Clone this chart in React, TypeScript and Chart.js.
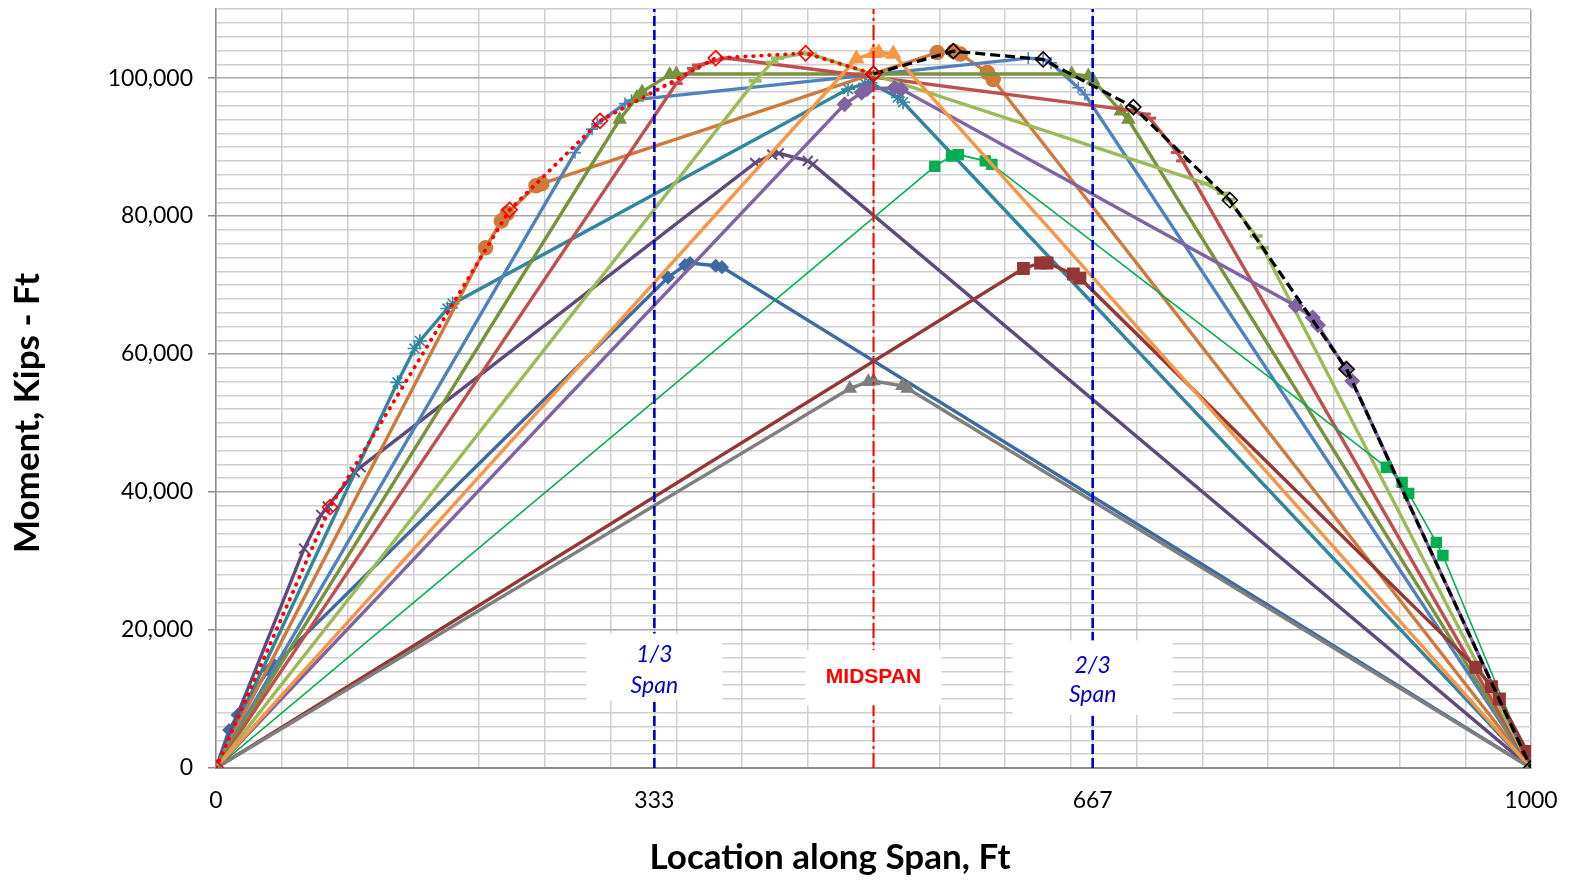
import React, { useEffect, useRef } from 'react';
import { Chart, registerables } from 'chart.js';

Chart.register(...registerables);

const FONT = 'Lato, "Open Sans", "Liberation Sans", sans-serif';

// ---- data (x: ft along span, y: moment kip-ft) ----
const darkBlueX = [0, 10, 16.5, 40, 44.4, 343.7, 356.7, 360.5, 380, 384.8, 1000];
const darkBlueY = [0, 5500, 7700, 14200, 14900, 71100, 72900, 73200, 72800, 72600, 0];
const darkPurpleX = [0, 67, 80, 85, 105.5, 110, 410, 423, 428, 450, 454, 1000];
const darkPurpleY = [0, 31800, 36700, 37900, 42900, 43600, 87700, 88900, 89100, 88000, 87500, 0];
const tealX = [0, 138, 151, 155, 176, 180, 480.6, 493.5, 497.5, 518.5, 522.5, 1000];
const tealY = [0, 55900, 60800, 61900, 66600, 67300, 98400, 99200, 99300, 97200, 96500, 0];
const brownX = [0, 205, 217, 221.5, 243.3, 247.7, 548.5, 561, 566, 586.6, 591, 1000];
const brownY = [0, 75400, 79300, 80400, 84400, 84700, 103700, 103900, 103500, 100800, 99800, 0];
const blueX = [0, 273, 286, 290, 311, 316, 617.7, 629, 635, 655.7, 660.8, 1000];
const blueY = [0, 89200, 92600, 93400, 96300, 96800, 102900, 102700, 102200, 98600, 97600, 0];
const oliveX = [0, 307, 320, 324, 345, 350, 650.7, 663.4, 667, 688, 693.8, 1000];
const oliveY = [0, 94000, 97200, 98000, 100500, 100600, 100600, 100300, 99700, 95200, 94000, 0];
const redX = [0, 350, 363, 367, 388, 392, 693, 706, 710, 731, 735, 1000];
const redY = [0, 99200, 101400, 101900, 102900, 102800, 95400, 94800, 94200, 89200, 88000, 0];
const lightGreenX = [0, 410, 423, 427, 448, 452, 753, 766, 770, 791, 796, 1000];
const lightGreenY = [0, 99600, 102300, 102900, 103600, 103500, 84700, 83300, 82400, 77100, 75400, 0];
const purpleX = [0, 478, 491, 495, 516, 521, 821, 834, 838, 859, 864, 1000];
const purpleY = [0, 96200, 97900, 98400, 98600, 98400, 67000, 65300, 64200, 57900, 56100, 0];
const greenX = [0, 546.6, 559.4, 564.5, 585, 590, 890, 902, 907, 928, 933, 1000];
const greenY = [0, 87200, 88700, 88900, 88000, 87500, 43600, 41400, 39800, 32700, 30800, 0];
const darkRedX = [0, 614, 627, 632, 652, 657, 958, 970, 976, 997, 1000];
const darkRedY = [0, 72400, 73200, 73200, 71600, 71000, 14600, 11800, 10000, 2400, 0];
const orangeX = [0, 487, 500, 504, 515, 1000];
const orangeY = [0, 102800, 103600, 103700, 103500, 0];
const grayX = [0, 482, 496, 500, 522, 526, 1000];
const grayY = [0, 55000, 56000, 56100, 55400, 55000, 0];

const leftEnvX = [0, 86.7, 223.3, 292, 380, 448.4, 500];
const leftEnvY = [0, 37800, 80900, 93800, 102900, 103600, 100600];
const rightEnvX = [500, 560.7, 629, 697.6, 771, 859.8, 1000];
const rightEnvY = [100600, 103900, 102700, 95800, 82300, 57800, 0];

const thirdSpan = 1000 / 3;
const twoThirdSpan = 2000 / 3;
const midSpan = 500;

const xGridValues = Array.from({ length: 21 }, (_, i) => i * 50);
const xTickValues = [...xGridValues, thirdSpan, twoThirdSpan].sort((a, b) => a - b);
const xLabelMap: Record<string, string> = { '0': '0', '333': '333', '667': '667', '1000': '1000' };
const yTickValues = Array.from({ length: 56 }, (_, i) => i * 2000);

const X_TITLE = 'Location along Span, Ft';
const Y_TITLE = 'Moment, Kips - Ft';

function pts(xs: number[], ys: number[]) {
  return xs.map((x, i) => ({ x, y: ys[i] }));
}

function series(xs: number[], ys: number[], color: string, style: string, r: number, order: number, extra: any = {}) {
  const n = xs.length;
  return {
    data: pts(xs, ys),
    borderColor: color,
    backgroundColor: color,
    borderWidth: 3.4,
    pointStyle: style,
    pointRadius: xs.map((_, i) => (i === 0 || i === n - 1 ? 0 : r)),
    pointBackgroundColor: color,
    pointBorderColor: color,
    pointBorderWidth: 1.5,
    tension: 0,
    order,
    ...extra,
  };
}

const annotPlugin = {
  id: 'annotBoxes',
  afterDatasetsDraw(chart: any) {
    const { ctx } = chart;
    const xs = chart.scales.x;
    const ys = chart.scales.y;
    const boxes = [
      { xv: thirdSpan, half: 68, top: 19500, bot: 9800, lines: ['1/3', 'Span'], ly: [16400, 11900], color: '#0000CC', font: 'italic 23px ' + FONT },
      { xv: midSpan, half: 68, top: 17100, bot: 9100, lines: ['MIDSPAN'], ly: [13200], color: '#FF0000', font: 'bold 21px "Liberation Sans", Arial, sans-serif' },
      { xv: twoThirdSpan, half: 80, top: 18500, bot: 7700, lines: ['2/3', 'Span'], ly: [14900, 10600], color: '#0000CC', font: 'italic 23px ' + FONT },
    ];
    ctx.save();
    for (const b of boxes) {
      const cx = xs.getPixelForValue(b.xv);
      const t = ys.getPixelForValue(b.top);
      const bt = ys.getPixelForValue(b.bot);
      ctx.fillStyle = '#FFFFFF';
      ctx.fillRect(cx - b.half, t, b.half * 2, bt - t);
      ctx.fillStyle = b.color;
      ctx.font = b.font;
      ctx.textAlign = 'center';
      ctx.textBaseline = 'middle';
      b.lines.forEach((s, i) => ctx.fillText(s, cx, ys.getPixelForValue(b.ly[i])));
    }
    ctx.restore();
  },
  afterDraw(chart: any) {
    const { ctx } = chart;
    ctx.save();
    ctx.fillStyle = '#000';
    ctx.font = 'bold 35px ' + FONT;
    ctx.textAlign = 'center';
    ctx.textBaseline = 'middle';
    ctx.fillText(X_TITLE, 830, 858);
    ctx.translate(28, 413);
    ctx.rotate(-Math.PI / 2);
    ctx.fillText(Y_TITLE, 0, 0);
    ctx.restore();
  },
};

export default function App() {
  const ref = useRef<HTMLCanvasElement | null>(null);
  useEffect(() => {
    if (!ref.current) return;
    const refLine = (xv: number, color: string, dash: number[], w: number) => ({
      data: [{ x: xv, y: 0 }, { x: xv, y: 110000 }],
      borderColor: color,
      borderWidth: w,
      borderDash: dash,
      pointRadius: 0,
      order: 1,
    });
    const datasets: any[] = [
      {
        data: pts(leftEnvX, leftEnvY),
        borderColor: '#FF0000',
        borderWidth: 3.8,
        borderDash: [0.5, 7.5],
        borderCapStyle: 'round',
        pointStyle: 'rectRot',
        pointRadius: 7.5,
        pointBorderWidth: 1.6,
        pointBorderColor: '#FF0000',
        pointBackgroundColor: 'rgba(255,255,255,0)',
        order: 0,
      },
      {
        data: pts(rightEnvX, rightEnvY),
        borderColor: '#000000',
        borderWidth: 3.2,
        borderDash: [10, 5],
        pointStyle: 'rectRot',
        pointRadius: 7.5,
        pointBorderWidth: 1.6,
        pointBorderColor: '#000000',
        pointBackgroundColor: 'rgba(255,255,255,0)',
        order: 0,
      },
      refLine(thirdSpan, '#0000CC', [10, 4], 2.6),
      refLine(twoThirdSpan, '#0000CC', [10, 4], 2.6),
      refLine(midSpan, '#FF0000', [15, 4, 3, 4], 2),
      series(darkBlueX, darkBlueY, '#3D6AA0', 'rectRot', 6, 20),
      series(darkPurpleX, darkPurpleY, '#604A7B', 'crossRot', 7, 19, { pointBorderWidth: 2 }),
      series(tealX, tealY, '#31859C', 'star', 7, 18, { pointBorderWidth: 1.6 }),
      series(brownX, brownY, '#CD7A3A', 'circle', 7, 17),
      series(blueX, blueY, '#4F81BD', 'cross', 6, 16, { pointBorderWidth: 1.6 }),
      series(oliveX, oliveY, '#77933C', 'triangle', 7, 15),
      series(redX, redY, '#C0504D', 'line', 6.5, 14, { pointBorderWidth: 3 }),
      series(lightGreenX, lightGreenY, '#9BBB59', 'line', 6.5, 13, { pointBorderWidth: 3.5 }),
      series(purpleX, purpleY, '#8064A2', 'rectRot', 7, 12),
      series(greenX, greenY, '#00B050', 'rect', 7, 11, { borderWidth: 1.6 }),
      series(darkRedX, darkRedY, '#953735', 'rect', 8, 10),
      series(orangeX, orangeY, '#F79646', 'triangle', 8, 9),
      series(grayX, grayY, '#7F7F7F', 'triangle', 7, 8),
    ];
    const chart = new Chart(ref.current, {
      type: 'line',
      data: { datasets },
      plugins: [annotPlugin],
      options: {
        responsive: false,
        maintainAspectRatio: false,
        animation: false,
        devicePixelRatio: 1,
        layout: { padding: { left: 0, right: 39, top: 8, bottom: 0 } },
        plugins: { legend: { display: false }, tooltip: { enabled: false } },
        elements: { line: { tension: 0 } },
        scales: {
          x: {
            type: 'linear',
            min: 0,
            max: 1000,
            afterBuildTicks: (s: any) => {
              s.ticks = xTickValues.map((v) => ({ value: v }));
            },
            afterFit: (s: any) => {
              s.height = 112;
              s.paddingLeft = 0;
              s.paddingRight = 0;
            },
            ticks: {
              autoSkip: false,
              maxRotation: 0,
              minRotation: 0,
              padding: 19,
              color: '#000',
              font: { family: FONT, size: 23 },
              callback: (v: any) => {
                const k = String(Math.round(Number(v)));
                const exact = Math.abs(Number(v) - Math.round(Number(v))) > 0.01 || Number(v) % 50 === 0;
                return exact && xLabelMap[k] !== undefined ? xLabelMap[k] : '';
              },
            },
            grid: {
              drawTicks: false,
              color: (c: any) => (c.tick && c.tick.value === 1000 ? '#A6A6A6' : '#D0D0D0'),
              lineWidth: 1.5,
            },
            border: { color: '#8C8C8C', width: 2 },
          },
          y: {
            type: 'linear',
            min: 0,
            max: 110000,
            afterBuildTicks: (s: any) => {
              s.ticks = yTickValues.map((v) => ({ value: v }));
            },
            afterFit: (s: any) => {
              s.width = 216;
              s.paddingTop = 0;
              s.paddingBottom = 0;
            },
            ticks: {
              autoSkip: false,
              padding: 15,
              color: '#000',
              font: { family: FONT, size: 23 },
              callback: (v: any) => (Number(v) % 20000 === 0 ? Number(v).toLocaleString('en-US') : ''),
            },
            grid: {
              tickLength: 8,
              color: (c: any) => (c.tick && c.tick.value % 20000 === 0 ? '#A6A6A6' : '#D0D0D0'),
              tickColor: (c: any) => (c.tick && c.tick.value % 20000 === 0 ? '#8C8C8C' : 'rgba(0,0,0,0)'),
              lineWidth: 1.5,
            },
            border: { color: '#8C8C8C', width: 1.5 },
          },
        },
      },
    });
    return () => chart.destroy();
  }, []);
  return (
    <div style={{ position: 'absolute', left: 0, top: 0, width: 1570, height: 880, background: '#fff' }}>
      <canvas ref={ref} width={1570} height={880} style={{ display: 'block' }} />
    </div>
  );
}
